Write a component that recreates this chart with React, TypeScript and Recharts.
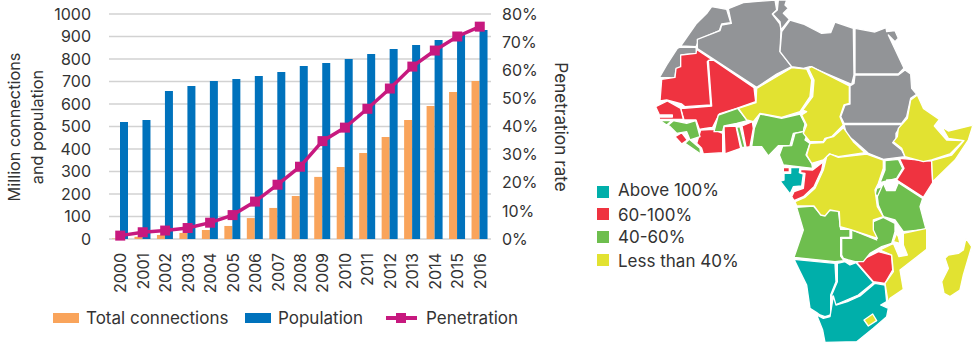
import React from 'react';
import {
  ComposedChart,
  Bar,
  Line,
  XAxis,
  YAxis,
  CartesianGrid,
  Legend,
  Rectangle,
  Surface,
  Layer,
  Polygon,
} from 'recharts';

const FONT = 'Inter, sans-serif';
const TEXT = '#333333';

const ORANGE = '#F9A45B';
const BLUE = '#0072BC';
const MAGENTA = '#C7197F';
const GRAY = '#929497';
const TEAL = '#00AFAA';
const RED = '#EF3340';
const GREEN = '#6EBE4E';
const YELLOW = '#E2E231';

const years = [
  '2000', '2001', '2002', '2003', '2004', '2005', '2006', '2007', '2008',
  '2009', '2010', '2011', '2012', '2013', '2014', '2015', '2016',
];
const connections = [2, 10, 18, 27, 40, 58, 93, 138, 191, 276, 320, 382, 453, 529, 591, 653, 702];
const population = [520, 529, 658, 680, 702, 711, 724, 742, 769, 782, 800, 822, 844, 862, 884, 908, 929];
const penetration = [1.2, 2.4, 3.0, 3.9, 5.8, 8.5, 13.3, 19.3, 25.7, 34.8, 39.6, 46.3, 53.5, 61.3, 67, 72, 75.5];

const leftTicks = [0, 100, 200, 300, 400, 500, 600, 700, 800, 900, 1000];
const rightTicks = [0, 10, 20, 30, 40, 50, 60, 70, 80];

const tableData = years.map((year, i) => ({
  year,
  connections: connections[i],
  population: population[i],
  penetration: penetration[i],
}));

const mapLegend = [
  { label: 'Above 100%', color: TEAL },
  { label: '60-100%', color: RED },
  { label: '40-60%', color: GREEN },
  { label: 'Less than 40%', color: YELLOW },
];

type Outline = [number, number][];

// Country outlines, in a 1149x1038 map space
const noData: Outline[] = [
  [[272, 138], [318, 72], [352, 38], [365, 20], [410, 28], [422, 68], [395, 72], [388, 92], [328, 118], [318, 140]],
  [[268, 142], [318, 142], [320, 160], [275, 165], [272, 205], [258, 208], [255, 232], [208, 233], [230, 195], [262, 145]],
  [[415, 26], [460, 8], [555, 0], [560, 30], [547, 42], [570, 72], [573, 90], [570, 155], [605, 200], [560, 222], [500, 262], [322, 146], [322, 118], [390, 92], [395, 75], [424, 70]],
  [[565, 0], [590, 0], [585, 15], [595, 25], [580, 40], [598, 58], [573, 90], [570, 65], [548, 42], [562, 30]],
  [[600, 60], [640, 72], [695, 100], [722, 98], [735, 66], [790, 85], [792, 225], [785, 253], [660, 200], [640, 205], [605, 200], [570, 155], [575, 95]],
  [[795, 85], [855, 96], [888, 83], [890, 95], [915, 92], [925, 115], [915, 125], [895, 105], [942, 205], [925, 222], [795, 222]],
  [[795, 225], [925, 225], [945, 210], [962, 222], [965, 265], [980, 283], [962, 295], [950, 350], [935, 370], [762, 370], [752, 350], [765, 315], [780, 312], [780, 258], [792, 250]],
  [[762, 374], [935, 374], [918, 400], [918, 425], [908, 428], [935, 450], [945, 470], [880, 478], [835, 460], [790, 420], [770, 405]],
];
const above100: Outline[] = [
  [[602, 503], [630, 503], [628, 518], [640, 522], [635, 558], [610, 560], [600, 582], [570, 543], [582, 540], [582, 520], [602, 520]],
  [[612, 778], [735, 790], [738, 845], [722, 885], [722, 945], [705, 950], [690, 945], [680, 938], [660, 925], [650, 855], [630, 815]],
  [[742, 790], [765, 785], [780, 795], [798, 788], [850, 848], [805, 885], [770, 900], [735, 915], [725, 885], [742, 845]],
  [[855, 850], [885, 855], [890, 905], [872, 915], [895, 925], [890, 950], [850, 985], [800, 1025], [705, 1027], [698, 990], [680, 945], [700, 955], [720, 950], [730, 888], [738, 915], [772, 905], [810, 888]],
];
const from60to100: Outline[] = [
  [[272, 165], [318, 160], [320, 148], [365, 178], [352, 185], [362, 315], [285, 320], [275, 312], [230, 300], [210, 303], [215, 238], [255, 232], [258, 205], [272, 200]],
  [[355, 181], [372, 181], [492, 263], [497, 305], [440, 325], [388, 342], [368, 382], [345, 385], [328, 388], [318, 360], [282, 360], [272, 325], [282, 325], [365, 318]],
  [[197, 320], [232, 303], [272, 325], [280, 358], [208, 358], [207, 342]],
  [[255, 410], [275, 398], [292, 420], [275, 432]],
  [[320, 430], [332, 390], [370, 388], [398, 400], [398, 458], [340, 462], [335, 445], [322, 432]],
  [[402, 380], [438, 378], [452, 445], [405, 462]],
  [[456, 378], [487, 365], [490, 385], [480, 440], [468, 442]],
  [[580, 503], [598, 503], [598, 516], [580, 516]],
  [[632, 508], [668, 510], [700, 485], [695, 510], [672, 560], [640, 590], [612, 602], [605, 590], [612, 575], [640, 565], [645, 520], [632, 518]],
  [[928, 475], [1025, 483], [1028, 548], [1000, 592], [920, 540], [942, 505]],
  [[800, 787], [835, 770], [865, 755], [905, 765], [908, 810], [885, 850], [850, 845]],
];
const from40to60: Outline[] = [
  [[210, 362], [245, 362], [230, 375]],
  [[235, 375], [250, 362], [290, 370], [317, 362], [330, 410], [300, 420], [290, 395], [260, 400]],
  [[285, 430], [298, 418], [330, 445], [332, 462]],
  [[372, 395], [385, 345], [443, 325], [472, 362], [440, 370], [402, 378], [398, 395]],
  [[440, 382], [450, 380], [465, 442], [455, 442]],
  [[493, 385], [510, 342], [575, 355], [630, 342], [645, 372], [640, 395], [610, 400], [600, 437], [565, 437], [535, 468], [515, 440], [485, 440]],
  [[645, 375], [655, 395], [645, 420], [660, 430], [648, 465], [665, 490], [668, 505], [580, 495], [568, 465], [578, 438], [605, 437], [615, 400], [640, 395]],
  [[885, 482], [925, 478], [938, 505], [920, 535], [870, 548], [885, 510]],
  [[860, 565], [875, 560], [878, 570], [870, 590], [855, 585]],
  [[880, 550], [890, 572], [915, 572], [925, 548], [998, 595], [990, 620], [1008, 688], [940, 695], [915, 660], [880, 650], [865, 615], [862, 590]],
  [[755, 715], [785, 715], [785, 690], [860, 720], [850, 695], [850, 665], [880, 652], [915, 670], [915, 695], [905, 730], [875, 740], [840, 760], [820, 785], [795, 785], [775, 780], [760, 775], [755, 765]],
  [[620, 622], [670, 618], [695, 645], [715, 632], [745, 632], [752, 688], [780, 688], [780, 712], [752, 712], [752, 768], [762, 782], [735, 785], [612, 772], [640, 690]],
];
const below40: Outline[] = [
  [[982, 285], [1000, 325], [1048, 358], [1033, 378], [1070, 420], [1120, 422], [1080, 462], [1025, 480], [1000, 485], [945, 470], [935, 445], [910, 425], [922, 410], [925, 385], [952, 355], [962, 300]],
  [[1055, 380], [1075, 393], [1149, 375], [1135, 420], [1095, 480], [1028, 545], [1025, 482], [1085, 465], [1122, 422], [1075, 415]],
  [[500, 265], [605, 203], [650, 207], [665, 240], [660, 290], [630, 335], [575, 352], [510, 340], [490, 365], [470, 360], [445, 325], [498, 308]],
  [[655, 205], [665, 200], [778, 258], [778, 310], [762, 315], [750, 350], [760, 375], [725, 410], [705, 415], [700, 425], [660, 425], [640, 400], [650, 375], [635, 345], [650, 335], [638, 330], [668, 290], [672, 240]],
  [[760, 383], [790, 425], [825, 458], [745, 470], [718, 462], [700, 480], [665, 490], [650, 465], [660, 430], [700, 428], [710, 415], [730, 410]],
  [[710, 470], [720, 462], [745, 472], [830, 462], [880, 480], [880, 505], [865, 550], [855, 570], [862, 620], [880, 650], [850, 660], [850, 690], [862, 715], [780, 688], [750, 680], [748, 635], [720, 630], [705, 648], [692, 645], [672, 618], [620, 618], [615, 605], [645, 592], [675, 565], [700, 510]],
  [[822, 960], [848, 942], [860, 962], [835, 978]],
  [[870, 750], [910, 730], [927, 770], [952, 765], [940, 735], [940, 700], [1010, 685], [1010, 748], [930, 810], [940, 868], [900, 895], [895, 910], [885, 850], [910, 815], [905, 765]],
  [[910, 725], [920, 700], [925, 710], [930, 730]],
  [[1128, 715], [1145, 740], [1120, 825], [1110, 870], [1080, 890], [1062, 880], [1055, 845], [1075, 805], [1065, 775], [1075, 765], [1105, 760], [1120, 750]],
];
// The Gambia and the lakes stay white
const cutouts: Outline[] = [
  [[207, 345], [247, 345], [247, 351], [207, 351]],
  [[890, 540], [920, 540], [915, 570], [890, 570]],
];

const mapGroups: { color: string; shapes: Outline[] }[] = [
  { color: GRAY, shapes: noData },
  { color: TEAL, shapes: above100 },
  { color: RED, shapes: from60to100 },
  { color: GREEN, shapes: from40to60 },
  { color: YELLOW, shapes: below40 },
  { color: '#ffffff', shapes: cutouts },
];

const toPoints = (shape: Outline) => shape.map(([x, y]) => ({ x, y }));

const AfricaMap = () => (
  <Surface width={383} height={346} viewBox={{ x: 0, y: 0, width: 1149, height: 1038 }}>
    {mapGroups.map((group) => (
      <Layer key={group.color}>
        {group.shapes.map((shape, i) => (
          <Polygon
            key={i}
            points={toPoints(shape)}
            fill={group.color}
            stroke="#ffffff"
            strokeWidth={4}
            strokeLinejoin="round"
          />
        ))}
      </Layer>
    ))}
  </Surface>
);

const ChartLegend = () => (
  <div style={{ position: 'relative', width: 600, height: 30, fontFamily: FONT, fontSize: 17, color: TEXT }}>
    <span style={{ position: 'absolute', left: 53, top: 14, width: 26, height: 10, background: ORANGE }} />
    <span style={{ position: 'absolute', left: 86, top: 9, whiteSpace: 'nowrap' }}>Total connections</span>
    <span style={{ position: 'absolute', left: 245, top: 14, width: 26, height: 10, background: BLUE }} />
    <span style={{ position: 'absolute', left: 278, top: 9 }}>Population</span>
    <span style={{ position: 'absolute', left: 386, top: 17, width: 31, height: 4, background: MAGENTA }} />
    <span style={{ position: 'absolute', left: 396, top: 14, width: 10, height: 10, background: MAGENTA }} />
    <span style={{ position: 'absolute', left: 426, top: 9 }}>Penetration</span>
  </div>
);

const SquareDot = (props: { cx?: number; cy?: number; index?: number }) => (
  <Rectangle
    key={props.index}
    x={(props.cx ?? 0) - 5}
    y={(props.cy ?? 0) - 5}
    width={10}
    height={10}
    fill={MAGENTA}
  />
);

// Year labels read bottom to top, centred under each pair of bars
const YearTick = (props: { x?: number; y?: number; payload?: { value: string } }) => (
  <text
    transform={`translate(${props.x},253) rotate(-90)`}
    textAnchor="end"
    dominantBaseline="central"
    fontFamily={FONT}
    fontSize={16}
    fill={TEXT}
  >
    {props.payload?.value}
  </text>
);

export default function App() {
  const tick = { fontFamily: FONT, fontSize: 16, fill: TEXT };
  return (
    <div style={{ position: 'absolute', left: 0, top: 0, width: 973, height: 346, background: '#fff', overflow: 'hidden' }}>
      <div style={{ position: 'absolute', left: 0, top: 0 }}>
        <ComposedChart
          width={600}
          height={346}
          data={tableData}
          margin={{ top: 14, right: 49, bottom: 17, left: 49 }}
          barCategoryGap={6}
          barGap={0}
        >
          <CartesianGrid vertical={false} stroke="#d2d2d2" strokeWidth={1.5} yAxisId="left" />
          <XAxis
            dataKey="year"
            interval={0}
            height={60}
            axisLine={false}
            tickLine={false}
            tick={(props: object) => <YearTick {...props} />}
          />
          <YAxis
            yAxisId="left"
            domain={[0, 1000]}
            ticks={leftTicks}
            width={60}
            axisLine={false}
            tickLine={false}
            tick={tick}
            tickMargin={12}
            interval={0}
          />
          <YAxis
            yAxisId="right"
            orientation="right"
            domain={[0, 80]}
            ticks={rightTicks}
            tickFormatter={(v: number) => `${v}%`}
            width={60}
            axisLine={false}
            tickLine={false}
            tick={{ ...tick, textAnchor: 'start' }}
            tickMargin={5}
            interval={0}
          />
          <Legend height={30} content={<ChartLegend />} wrapperStyle={{ left: 0, width: 600 }} />
          <Bar yAxisId="left" dataKey="connections" fill={ORANGE} barSize={8} isAnimationActive={false} />
          <Bar yAxisId="left" dataKey="population" fill={BLUE} barSize={8} isAnimationActive={false} />
          <Line
            yAxisId="right"
            dataKey="penetration"
            stroke={MAGENTA}
            strokeWidth={3.5}
            dot={(props: { cx?: number; cy?: number; index?: number }) => <SquareDot {...props} />}
            isAnimationActive={false}
          />
          <text
            fontFamily={FONT}
            fontSize={16.3}
            fill={TEXT}
            textAnchor="middle"
            transform="rotate(-90)"
          >
            <tspan x={-127} y={20}>Million connections</tspan>
            <tspan x={-127} y={43}>and population</tspan>
          </text>
          <text
            fontFamily={FONT}
            fontSize={17.2}
            fill={TEXT}
            textAnchor="middle"
            transform="translate(555,127) rotate(90)"
          >
            Penetration rate
          </text>
        </ComposedChart>
      </div>
      <div style={{ position: 'absolute', left: 590, top: 0 }}>
        <AfricaMap />
      </div>
      {mapLegend.map((item, i) => (
        <div key={item.label}>
          <div
            style={{
              position: 'absolute',
              left: 597,
              top: [186, 208, 231, 254][i],
              width: 12,
              height: 12,
              background: item.color,
            }}
          />
          <div
            style={{
              position: 'absolute',
              left: 618,
              top: [180, 205, 227, 251][i],
              fontFamily: FONT,
              fontSize: 17,
              color: TEXT,
            }}
          >
            {item.label}
          </div>
        </div>
      ))}
    </div>
  );
}
